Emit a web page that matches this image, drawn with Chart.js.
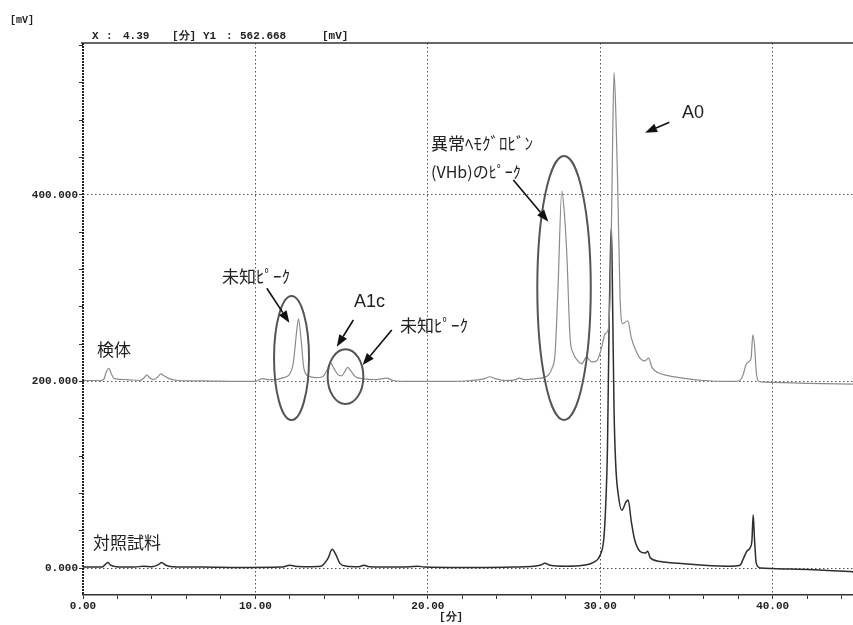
<!DOCTYPE html>
<html>
<head>
<meta charset="utf-8">
<script src="https://cdn.jsdelivr.net/npm/chart.js@4.4.1/dist/chart.umd.min.js"></script>
<style>
  html, body { margin: 0; padding: 0; background: #fff; }
  #wrap { width: 853px; height: 625px; }
</style>
</head>
<body>
<div id="wrap"><canvas id="chromatogram"></canvas></div>
<script>
// 検体 - czas [分], sygnał [mV]
const sampleTime = [0.0, 1.0, 1.2, 1.35, 1.5, 1.65, 1.8, 2.5, 3.3, 3.55, 3.7, 3.85, 4.1, 4.35, 4.5, 4.7, 5.0, 5.5, 7.0, 9.0,
  10.0, 10.4, 10.7, 11.2, 11.6, 11.95, 12.2, 12.4, 12.5, 12.65, 12.8, 13.05, 13.5, 13.9, 14.15, 14.35, 14.55, 14.8, 15.0, 15.2,
  15.35, 15.5, 15.8, 16.2, 17.0, 17.6, 18.0, 19.0, 20.0, 21.0, 22.5, 23.3, 23.6, 23.9, 24.5, 25.1, 25.3, 25.6, 26.3, 26.7,
  27.0, 27.2, 27.38, 27.55, 27.77, 27.92, 28.06, 28.25, 28.44, 28.65, 28.93, 29.2, 29.5, 29.8, 30.09, 30.28, 30.47, 30.62, 30.72, 30.8,
  30.9, 31.0, 31.15, 31.3, 31.6, 31.8, 32.0, 32.3, 32.6, 32.8, 33.0, 33.4, 34.0, 35.0, 36.0, 37.5, 38.1, 38.3, 38.45, 38.6,
  38.75, 38.85, 38.95, 39.05, 39.2, 40.0, 42.0, 44.7];
const sampleMv = [201, 201, 202, 210, 214, 208, 203, 202, 201, 204, 207, 204, 202, 205, 208, 206, 203, 201, 200.5, 200,
  200, 203, 202, 202, 204, 207, 220, 255, 267, 245, 215, 206, 204, 205, 212, 220, 214, 207, 206, 211,
  215, 212, 205, 203, 202, 203.5, 201, 200, 200, 200, 201, 203, 205, 203, 201, 202, 203.5, 202, 203, 204,
  207, 214, 230, 300, 404, 380, 337, 247, 230, 223, 219, 226, 221, 222, 237, 251, 256, 330, 460, 531,
  490, 420, 290, 262, 265, 247, 236, 225, 222, 225, 215, 209, 206, 203, 201, 200, 201, 208, 218, 221,
  225, 250, 238, 210, 200, 199, 198, 197];

// 対照試料
const controlTime = [0.0, 1.1, 1.3, 1.45, 1.6, 1.9, 3.0, 3.5, 4.0, 4.4, 4.55, 4.8, 5.2, 7.0, 9.0, 11.5, 12.0, 12.3, 13.0, 13.8,
  14.2, 14.45, 14.65, 14.9, 15.3, 16.0, 16.3, 16.6, 18.5, 19.4, 19.8, 22.0, 25.0, 26.5, 26.8, 27.1, 28.0, 29.0, 29.6, 30.0,
  30.2, 30.3, 30.42, 30.52, 30.6, 30.65, 30.72, 30.8, 30.9, 31.05, 31.25, 31.5, 31.62, 31.8, 32.0, 32.3, 32.6, 32.75, 32.9, 33.5,
  34.5, 36.0, 37.5, 38.1, 38.3, 38.5, 38.7, 38.8, 38.87, 38.95, 39.05, 39.3, 41.0, 44.7];
const controlMv = [1, 1, 4, 6, 3, 1.5, 1, 2, 1.5, 4, 6, 3, 1.5, 1, 0.5, 1, 3, 2, 1.5, 2,
  10, 20, 15, 5, 2, 1.5, 3, 1.5, 1, 2, 1, 0.5, 1, 3, 5, 3, 2, 3, 6, 14,
  30, 60, 130, 270, 345, 365, 280, 170, 110, 78, 62, 71, 73, 50, 30, 18, 16, 18, 11, 7,
  5, 3, 2, 3, 10, 18, 22, 30, 57, 30, 5, 0, -1, -4];

// osie
const xTicks = [0, 2, 4, 6, 8, 10, 12, 14, 16, 18, 20, 22, 24, 26, 28, 30, 32, 34, 36, 38, 40, 42, 44];
const xMajor = [0, 10, 20, 30, 40];
const xLabels = ['0.00', '10.00', '20.00', '30.00', '40.00'];
const yTicks = [0, 40, 80, 120, 160, 200, 240, 280, 320, 360, 400, 440, 480, 520, 560];
const yMajor = [0, 200, 400];
const yLabels = ['0.000', '200.000', '400.000'];

const monoFont = { family: '"Liberation Mono", "DejaVu Sans Mono", monospace', size: 11, weight: 'bold' };
const jpFont = '"Noto Sans CJK JP", "Noto Sans", sans-serif';

// Adnotacje rysowane na wykresie (we współrzędnych danych)
const annotationPlugin = {
    id: 'notes',
    afterDraw(chart) {
        const c = chart.ctx;
        const xs = chart.scales.x, ys = chart.scales.y;
        const px = v => xs.getPixelForValue(v);
        const py = v => ys.getPixelForValue(v);
        const area = chart.chartArea;

        c.save();
        // górna ramka + lewa oś (przerywana)
        c.strokeStyle = '#333';
        c.lineWidth = 1.5;
        c.beginPath();
        c.moveTo(area.left - 2, area.top);
        c.lineTo(area.right, area.top);
        c.stroke();
        c.strokeStyle = '#222';
        c.lineWidth = 2;
        c.setLineDash([2, 1]);
        c.beginPath();
        c.moveTo(area.left, area.top);
        c.lineTo(area.left, area.bottom);
        c.stroke();
        c.setLineDash([]);

        // nagłówek
        c.fillStyle = '#222';
        c.textBaseline = 'middle';
        c.textAlign = 'left';
        c.font = 'bold 10px "Liberation Mono", monospace';
        c.fillText('[mV]', 10, 20);
        c.font = 'bold 11px "Liberation Mono", monospace';
        const head = [['X', 92], [':', 106], ['4.39', 123], ['[分]', 172], ['Y1', 203], [':', 226], ['562.668', 240], ['[mV]', 322]];
        head.forEach(h => c.fillText(h[0], h[1], 36));
        c.textAlign = 'center';
        c.fillText('[分]', 451, 617);

        // elipsy
        c.strokeStyle = '#555';
        c.lineWidth = 2;
        const ellipses = [[11.08, 13.11, 291.5, 158.6], [14.19, 16.26, 234.4, 175.8], [26.35, 29.45, 441.6, 158.6]];
        ellipses.forEach(e => {
            const x1 = px(e[0]), x2 = px(e[1]), y1 = py(e[2]), y2 = py(e[3]);
            c.beginPath();
            c.ellipse((x1 + x2) / 2, (y1 + y2) / 2, (x2 - x1) / 2, (y2 - y1) / 2, 0, 0, Math.PI * 2);
            c.stroke();
        });

        // strzałki
        const arrows = [[10.66, 299.8, 11.97, 262.9], [15.68, 265.8, 14.72, 237.2], [17.91, 255.1, 16.22, 217.6],
            [24.96, 415.9, 26.99, 371.2], [34.01, 477.7, 32.60, 466.6]];
        c.strokeStyle = '#111';
        c.fillStyle = '#111';
        c.lineWidth = 1.6;
        arrows.forEach(a => {
            const x1 = px(a[0]), y1 = py(a[1]), x2 = px(a[2]), y2 = py(a[3]);
            const ang = Math.atan2(y2 - y1, x2 - x1);
            const len = 12, half = 4.5;
            const bx = x2 - len * Math.cos(ang), by = y2 - len * Math.sin(ang);
            c.beginPath();
            c.moveTo(x1, y1);
            c.lineTo(bx, by);
            c.stroke();
            c.beginPath();
            c.moveTo(x2, y2);
            c.lineTo(bx + half * Math.sin(ang), by - half * Math.cos(ang));
            c.lineTo(bx - half * Math.sin(ang), by + half * Math.cos(ang));
            c.closePath();
            c.fill();
        });

        // teksty
        c.fillStyle = '#222';
        c.textAlign = 'left';
        const texts = [
            ['未知ﾋﾟｰｸ', 8.06, 311.9, '17px ' + jpFont],
            ['A1c', 15.72, 285.1, '18px "Liberation Sans", Arial, sans-serif'],
            ['未知ﾋﾟｰｸ', 18.39, 259.4, '17px ' + jpFont],
            ['異常ﾍﾓｸﾞﾛﾋﾞﾝ', 20.19, 454.5, '17px ' + jpFont],
            ['(VHb)のﾋﾟｰｸ', 20.19, 424.4, '16px ' + jpFont],
            ['A0', 34.74, 487.7, '18px "Liberation Sans", Arial, sans-serif'],
            ['検体', 0.81, 233.7, '17px ' + jpFont],
            ['対照試料', 0.58, 26.8, '17px ' + jpFont]
        ];
        texts.forEach(t => {
            c.font = t[3];
            c.fillText(t[0], px(t[1]), py(t[2]));
        });
        c.restore();
    }
};

const ctx = document.getElementById('chromatogram').getContext('2d');

new Chart(ctx, {
    type: 'line',
    data: {
        datasets: [{
            label: '検体',
            data: sampleTime.map((t, i) => ({ x: t, y: sampleMv[i] })),
            borderColor: '#8c8c8c',
            borderWidth: 1.2,
            pointRadius: 0,
            cubicInterpolationMode: 'monotone'
        }, {
            label: '対照試料',
            data: controlTime.map((t, i) => ({ x: t, y: controlMv[i] })),
            borderColor: '#2e2e2e',
            borderWidth: 1.5,
            pointRadius: 0,
            cubicInterpolationMode: 'monotone'
        }]
    },
    options: {
        responsive: true,
        maintainAspectRatio: false,
        animation: false,
        devicePixelRatio: 1,
        layout: { padding: { top: 43, left: 0, right: 0, bottom: 0 } },
        plugins: {
            legend: { display: false },
            tooltip: { enabled: false }
        },
        scales: {
            x: {
                type: 'linear',
                min: 0,
                max: 44.66,
                afterBuildTicks: axis => { axis.ticks = xTicks.map(v => ({ value: v })); },
                afterFit: axis => { axis.height = 30; },
                ticks: {
                    autoSkip: false,
                    maxRotation: 0,
                    padding: 1,
                    color: '#222',
                    font: monoFont,
                    callback: v => { const k = xMajor.indexOf(v); return k >= 0 ? xLabels[k] : ''; }
                },
                grid: {
                    color: c => (c.tick && c.tick.value !== 0 && xMajor.includes(c.tick.value)) ? '#555' : 'rgba(0,0,0,0)',
                    lineWidth: 1,
                    tickColor: '#333',
                    tickLength: 4,
                    tickBorderDash: []
                },
                border: { display: true, color: '#333', width: 1.5, dash: [1.5, 2.5] }
            },
            y: {
                type: 'linear',
                min: -28.9,
                max: 562.668,
                afterBuildTicks: axis => { axis.ticks = yTicks.map(v => ({ value: v })); },
                afterFit: axis => { axis.width = 83; },
                ticks: {
                    autoSkip: false,
                    padding: 1,
                    color: '#222',
                    font: monoFont,
                    callback: v => { const k = yMajor.indexOf(v); return k >= 0 ? yLabels[k] : ''; }
                },
                grid: {
                    color: c => (c.tick && yMajor.includes(c.tick.value)) ? '#555' : 'rgba(0,0,0,0)',
                    lineWidth: 1,
                    tickColor: '#333',
                    tickLength: 4,
                    tickBorderDash: []
                },
                border: { display: false, dash: [1.5, 2.5] }
            }
        }
    },
    plugins: [annotationPlugin]
});
</script>
</body>
</html>
